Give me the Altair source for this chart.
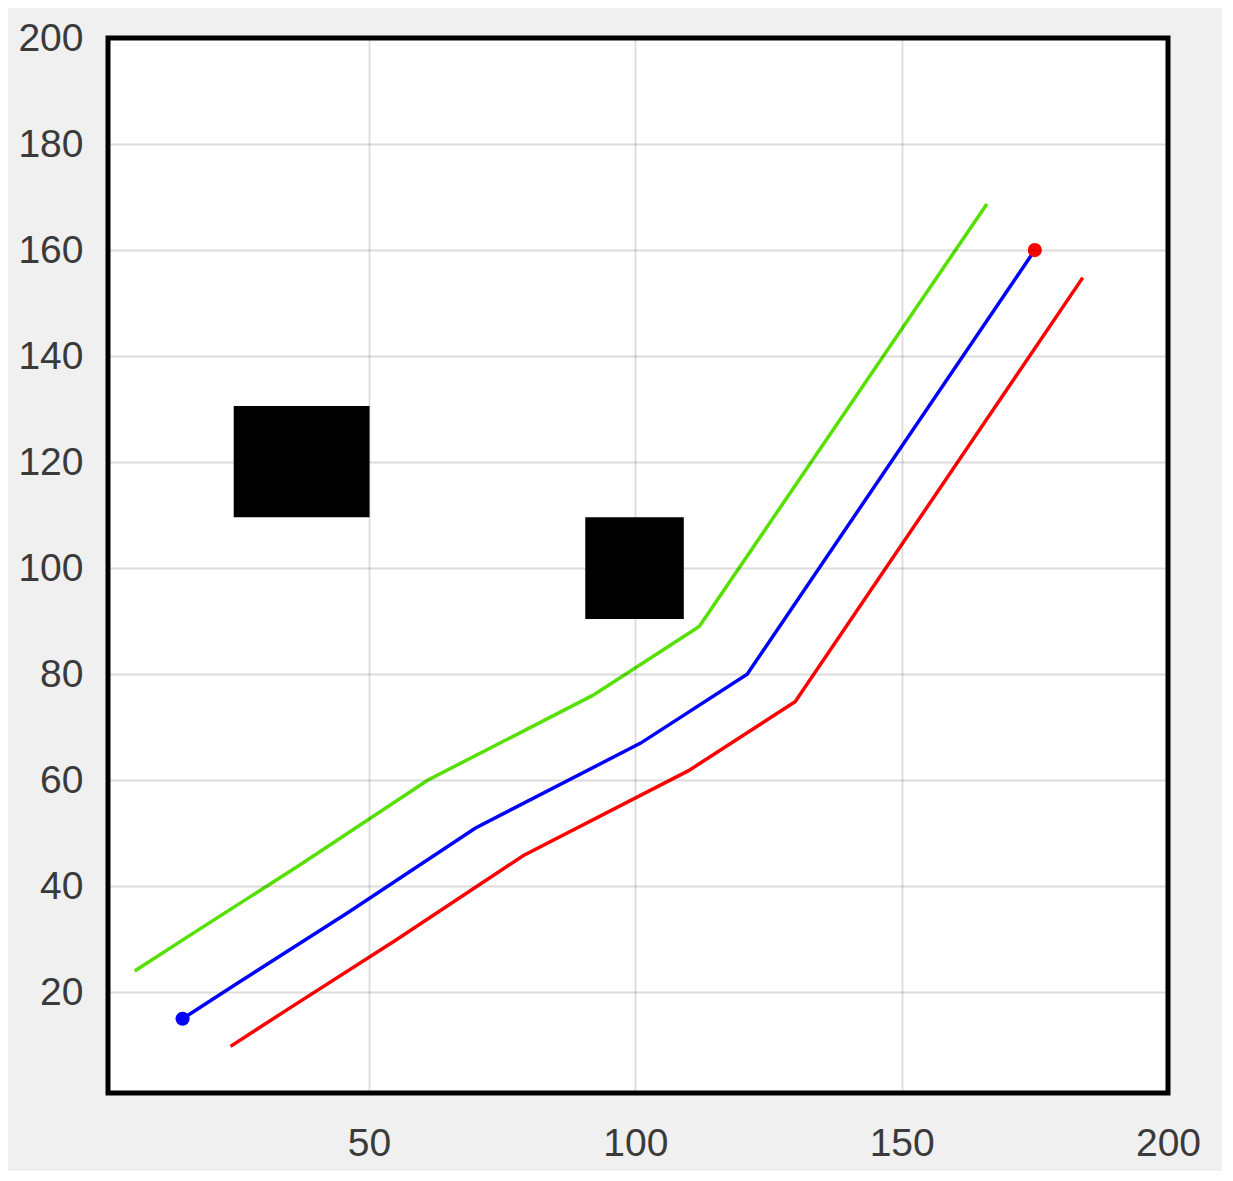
import altair as alt
import pandas as pd

# ---- data ----
# planned path (blue) and the two offset paths (green above, red below)
blue_x = [15, 25, 46, 70, 101, 121, 175]
blue_y = [15, 21.5, 35, 51, 67, 80, 160]
green_x = [6, 16, 37, 61, 92, 112, 166]
green_y = [24, 30.5, 44, 60, 76, 89, 168.7]
red_x = [24, 34, 55, 79, 110, 130, 184]
red_y = [9.8, 16.3, 29.8, 45.8, 61.8, 74.8, 154.8]

# start and goal markers
start_pt = [15, 15]
goal_pt = [175, 160]

# obstacles: x1, x2, y1, y2
obs_x1 = [24.6, 90.6]
obs_x2 = [50.1, 109.1]
obs_y1 = [109.6, 90.4]
obs_y2 = [130.6, 109.6]

x_ticks = [50, 100, 150, 200]
y_ticks = [20, 40, 60, 80, 100, 120, 140, 160, 180, 200]
domain = [1, 200]

series_names = ["green", "blue", "red"]
series_colors = ["#55e000", "#0000ff", "#ff0000"]

rows = []
for name, xs, ys in [("green", green_x, green_y), ("blue", blue_x, blue_y), ("red", red_x, red_y)]:
    for i, (a, b) in enumerate(zip(xs, ys)):
        rows.append({"series": name, "step": i, "x": a, "y": b})
lines_df = pd.DataFrame(rows)

obs_df = pd.DataFrame({"x1": obs_x1, "x2": obs_x2, "y1": obs_y1, "y2": obs_y2})
pts_df = pd.DataFrame({"x": [start_pt[0], goal_pt[0]], "y": [start_pt[1], goal_pt[1]],
                       "kind": ["start", "goal"]})

common_axis = dict(title=None, ticks=False, domain=False, grid=True,
                   labelFont="Liberation Sans", labelFontSize=39, labelColor="#3a3a3a",
                   labelFlush=False, gridColor="black", gridOpacity=0.14, gridWidth=1.8,
                   zindex=1)
x_axis = alt.Axis(values=x_ticks, labelPadding=31, **common_axis)
y_axis = alt.Axis(values=y_ticks, labelPadding=25, **common_axis)
xs = alt.Scale(domain=domain, nice=False, zero=False)
ys = alt.Scale(domain=domain, nice=False, zero=False)

rects = alt.Chart(obs_df).mark_rect(color="black").encode(
    x=alt.X("x1:Q", scale=xs, axis=x_axis),
    x2="x2:Q",
    y=alt.Y("y1:Q", scale=ys, axis=y_axis),
    y2="y2:Q",
)

lines = alt.Chart(lines_df).mark_line(strokeWidth=3.5).encode(
    x=alt.X("x:Q", scale=xs, axis=x_axis),
    y=alt.Y("y:Q", scale=ys, axis=y_axis),
    color=alt.Color("series:N", scale=alt.Scale(domain=series_names, range=series_colors), legend=None),
    order="step:Q",
)

points = alt.Chart(pts_df).mark_circle(size=200, opacity=1).encode(
    x=alt.X("x:Q", scale=xs, axis=x_axis),
    y=alt.Y("y:Q", scale=ys, axis=y_axis),
    color=alt.Color("kind:N", scale=alt.Scale(domain=["start", "goal"], range=["#0000ff", "#ff0000"]), legend=None),
)

chart = alt.layer(rects, lines, points).resolve_scale(color="independent").properties(
    width=1060,
    height=1055,
    autosize=alt.AutoSizeParams(type="none"),
    padding={"left": 100, "top": 30, "right": 54, "bottom": 78},
    background="#f0f0f0",
).configure_view(fill="white", stroke="black", strokeWidth=5)

chart.save("out.html", embed_options={"renderer": "svg", "actions": False})
